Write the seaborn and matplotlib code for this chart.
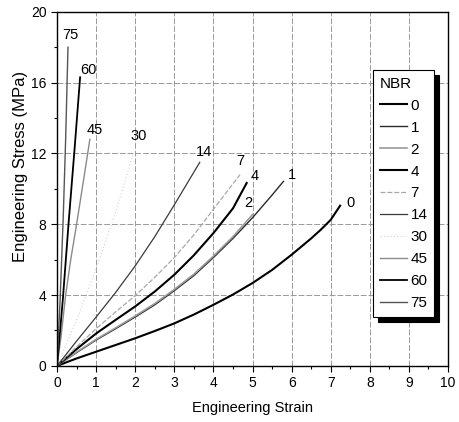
import matplotlib
matplotlib.use("Agg")
import matplotlib.pyplot as plt
import seaborn as sns
import pandas as pd
from matplotlib.lines import Line2D
from matplotlib.ticker import MultipleLocator

# ---- data ----
nbr = ["0", "1", "2", "4", "7", "14", "30", "45", "60", "75"]
strain_0 = [0, 0.5, 1, 1.5, 2, 2.5, 3, 3.5, 4, 4.5, 5, 5.5, 6, 6.5, 6.75,
            7, 7.24]
stress_0 = [0, 0.42, 0.8, 1.18, 1.56, 1.97, 2.4, 2.9, 3.45, 4.03, 4.68,
            5.42, 6.28, 7.2, 7.7, 8.25, 9.05]
strain_1 = [0, 0.5, 1, 1.5, 2, 2.5, 3, 3.5, 4, 4.5, 5, 5.5, 5.79]
stress_1 = [0, 0.75, 1.46, 2.1, 2.76, 3.45, 4.25, 5.1, 6.12, 7.2, 8.37,
            9.65, 10.42]
strain_2 = [0, 0.5, 1, 1.5, 2, 2.5, 3, 3.5, 4, 4.5, 5.0]
stress_2 = [0, 0.78, 1.5, 2.15, 2.82, 3.52, 4.32, 5.18, 6.2, 7.3, 8.55]
strain_4 = [0, 0.5, 1, 1.5, 2, 2.5, 3, 3.5, 4, 4.5, 4.85]
stress_4 = [0, 0.95, 1.83, 2.6, 3.36, 4.2, 5.15, 6.25, 7.5, 8.9, 10.33]
strain_7 = [0, 0.5, 1, 1.5, 2, 2.5, 3, 3.5, 4, 4.68]
stress_7 = [0, 1.08, 2.1, 3.05, 3.97, 5.0, 6.12, 7.4, 8.85, 10.8]
strain_14 = [0, 0.5, 1, 1.5, 2, 2.5, 3, 3.65]
stress_14 = [0, 1.4, 2.76, 4.15, 5.65, 7.3, 9.1, 11.5]
strain_30 = [0, 0.5, 1, 1.5, 1.95]
stress_30 = [0, 2.6, 5.5, 8.7, 12.0]
strain_45 = [0, 0.1, 0.22, 0.35, 0.5, 0.65, 0.84]
stress_45 = [0, 1.6, 4.0, 6.0, 8.0, 10.1, 12.8]
strain_60 = [0, 0.15, 0.3, 0.45, 0.59]
stress_60 = [0, 3.8, 8.2, 12.3, 16.3]
strain_75 = [0, 0.08, 0.16, 0.22, 0.28]
stress_75 = [0, 3.8, 8.5, 12.8, 18.0]

label_x = [7.5, 6.0, 4.9, 5.05, 4.68, 3.75, 2.1, 0.97, 0.8, 0.33]
label_y = [9.2, 10.8, 9.2, 10.7, 11.6, 12.1, 13.0, 13.3, 16.7, 18.7]

strains = [strain_0, strain_1, strain_2, strain_4, strain_7, strain_14,
           strain_30, strain_45, strain_60, strain_75]
stresses = [stress_0, stress_1, stress_2, stress_4, stress_7, stress_14,
            stress_30, stress_45, stress_60, stress_75]

rows = []
for n, xs, ys in zip(nbr, strains, stresses):
    for x, y in zip(xs, ys):
        rows.append({"NBR": n, "Strain": x, "Stress": y})
df = pd.DataFrame(rows)

# ---- styles ----
colors = {"0": "#000000", "1": "#2a2a2a", "2": "#9a9a9a", "4": "#000000",
          "7": "#a8a8a8", "14": "#3a3a3a", "30": "#d2d2d2", "45": "#8a8a8a",
          "60": "#000000", "75": "#555555"}
widths = {"0": 1.5, "1": 1.0, "2": 1.2, "4": 1.5, "7": 0.9, "14": 0.9,
          "30": 0.8, "45": 1.0, "60": 1.3, "75": 1.0}
dashes = {"0": "", "1": "", "2": "", "4": "", "7": (4, 1.5), "14": "",
          "30": (1, 2), "45": "", "60": "", "75": ""}

plt.rcParams["font.family"] = ["Liberation Sans", "DejaVu Sans"]
fig = plt.figure(figsize=(4.6, 4.22), dpi=100)
ax = fig.add_axes([0.124, 0.133, 0.850, 0.839])

sns.lineplot(data=df, x="Strain", y="Stress", hue="NBR", style="NBR",
             size="NBR", palette=colors, dashes=dashes, sizes=widths,
             hue_order=nbr, style_order=nbr, size_order=nbr,
             sort=False, estimator=None, units="NBR", legend=False, ax=ax)

for n, lx, ly in zip(nbr, label_x, label_y):
    ax.text(lx, ly, n, ha="center", va="center", fontsize=10.5)

ax.set_xlim(0, 10)
ax.set_ylim(0, 20)
ax.xaxis.set_major_locator(MultipleLocator(1))
ax.xaxis.set_minor_locator(MultipleLocator(0.5))
ax.yaxis.set_major_locator(MultipleLocator(4))
ax.yaxis.set_minor_locator(MultipleLocator(2))
ax.tick_params(which="major", direction="out", length=4, width=0.8,
               labelsize=10)
ax.tick_params(which="minor", direction="out", length=2.5, width=0.8)
ax.grid(True, which="major", color="#9a9a9a", lw=0.7, ls=(0, (6, 2)))
for s in ax.spines.values():
    s.set_color("black")
    s.set_linewidth(1.0)
ax.set_xlabel("Engineering Strain", fontsize=10.5, labelpad=8)
ax.set_ylabel("Engineering Stress (MPa)", fontsize=12)
ax.yaxis.set_label_coords(-0.074, 0.562)

handles = []
for n in nbr:
    d = dashes[n]
    ls = "-" if d == "" else (0, d)
    handles.append(Line2D([], [], color=colors[n], lw=widths[n], ls=ls))
leg = ax.legend(handles, nbr, title="NBR", loc="upper right",
                bbox_to_anchor=(0.965, 0.836), fontsize=11,
                title_fontsize=11, frameon=True, fancybox=False,
                edgecolor="black", framealpha=1,
                shadow={"color": "black", "alpha": 1, "ox": 3.5, "oy": -3.5},
                handlelength=1.8, handletextpad=0.2, labelspacing=0.52,
                borderpad=0.45, borderaxespad=0, alignment="left")
leg.get_frame().set_linewidth(0.8)

fig.savefig("out.png", dpi=100)
